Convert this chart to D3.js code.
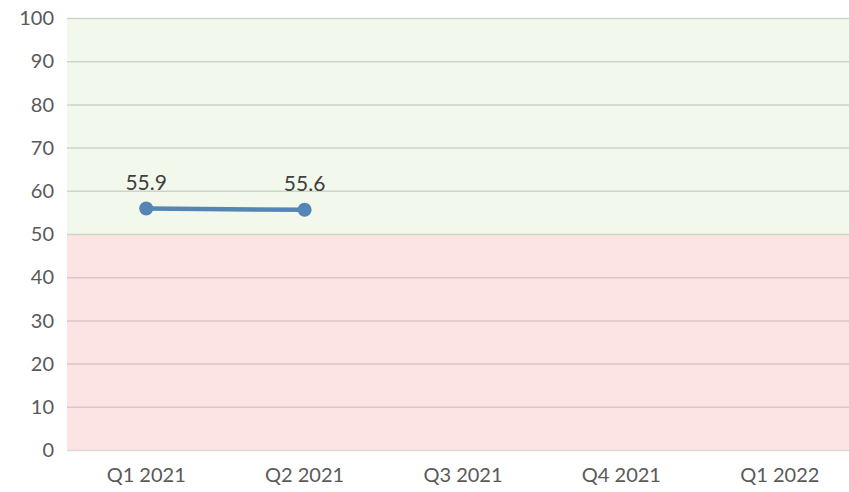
<!DOCTYPE html>
<html>
<head>
<meta charset="utf-8">
<script src="https://cdn.jsdelivr.net/npm/d3@7"></script>
<style>
  body { margin: 0; background: #fff; }
  svg { display: block; font-family: Lato, "Open Sans", sans-serif; }
</style>
</head>
<body>
<div id="chart"></div>
<script>
// data
const quarters = ["Q1 2021", "Q2 2021", "Q3 2021", "Q4 2021", "Q1 2022"];
const scores = [55.9, 55.6, null, null, null];
const yTicks = [0, 10, 20, 30, 40, 50, 60, 70, 80, 90, 100];
const threshold = 50;

const anchoTotal = 849, altoTotal = 492;
const margins = { top: 18, right: -10, bottom: 42, left: 67 };
const ancho = anchoTotal - margins.left - margins.right;
const alto = altoTotal - margins.top - margins.bottom;

const svg = d3.select("#chart").append("svg")
    .attr("width", anchoTotal)
    .attr("height", altoTotal);
const g = svg.append("g").attr("transform", `translate(${margins.left}, ${margins.top})`);

const x = d3.scaleBand().domain(quarters).range([0, ancho]);
const y = d3.scaleLinear().domain([0, 100]).range([alto, 0]);

// bandas de fondo
g.append("rect").attr("x", 0).attr("width", ancho)
    .attr("y", y(100)).attr("height", y(threshold) - y(100)).attr("fill", "#f2f8ec");
g.append("rect").attr("x", 0).attr("width", ancho)
    .attr("y", y(threshold)).attr("height", y(0) - y(threshold)).attr("fill", "#fde4e4");

// rejilla
g.selectAll(".grid").data(yTicks).join("line")
    .attr("x1", 0).attr("x2", ancho)
    .attr("y1", d => y(d) + 0.5).attr("y2", d => y(d) + 0.5)
    .attr("stroke", d => d === 0 ? "#d9d9d9" : (d >= threshold ? "#cdd5c6" : "#dcc5c5"))
    .attr("stroke-width", 1.5);

// eje Y
g.selectAll(".ylab").data(yTicks).join("text")
    .attr("x", -13).attr("y", d => y(d))
    .attr("dy", "0.36em")
    .attr("text-anchor", "end")
    .attr("fill", "#595959")
    .attr("font-size", 20)
    .text(d => d);

// eje X
g.selectAll(".xlab").data(quarters).join("text")
    .attr("x", d => x(d) + x.bandwidth() / 2)
    .attr("y", alto + 32)
    .attr("text-anchor", "middle")
    .attr("fill", "#595959")
    .attr("font-size", 20)
    .text(d => d);

// linea
const pts = quarters.map((q, i) => ({ q, v: scores[i] })).filter(d => d.v != null);
const line = d3.line()
    .x(d => x(d.q) + x.bandwidth() / 2)
    .y(d => y(d.v));
g.append("path").datum(pts)
    .attr("d", line)
    .attr("fill", "none")
    .attr("stroke", "#5485b4")
    .attr("stroke-width", 4.5);
g.selectAll(".pt").data(pts).join("circle")
    .attr("cx", d => x(d.q) + x.bandwidth() / 2)
    .attr("cy", d => y(d.v))
    .attr("r", 7)
    .attr("fill", "#5485b4");

g.selectAll(".vlab").data(pts).join("text")
    .attr("x", d => x(d.q) + x.bandwidth() / 2)
    .attr("y", d => y(d.v) - 19)
    .attr("text-anchor", "middle")
    .attr("fill", "#404040")
    .attr("font-size", 21)
    .text(d => d.v.toFixed(1));
</script>
</body>
</html>
